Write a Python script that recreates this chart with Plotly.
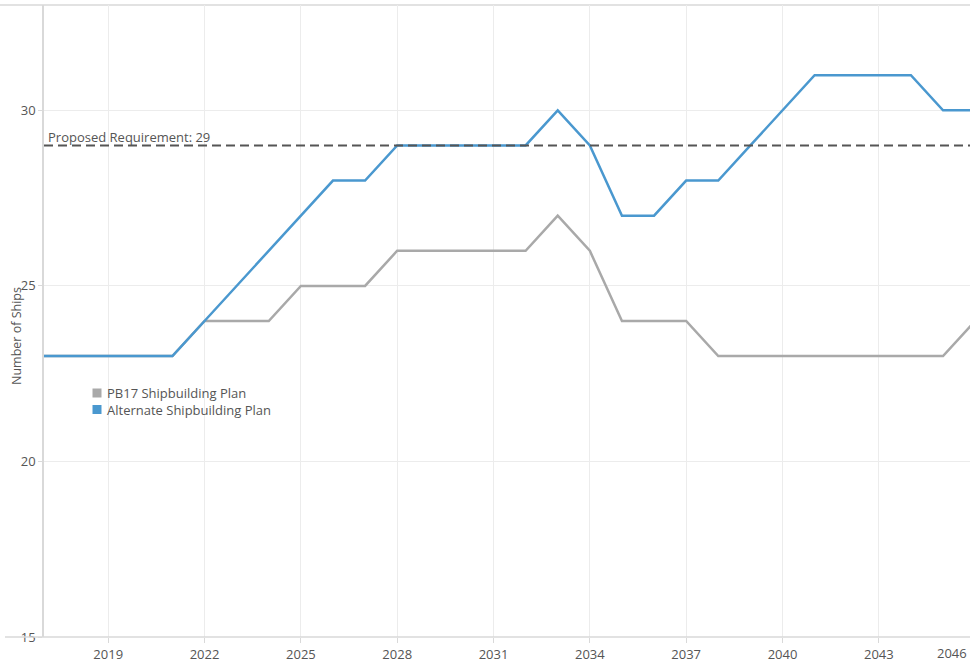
import plotly.graph_objects as go

# Fleet size by year under two shipbuilding plans
years = list(range(2017, 2047))
pb17_plan = [23, 23, 23, 23, 23, 24, 24, 24, 25, 25, 25, 26, 26, 26, 26, 26, 27, 26,
             24, 24, 24, 23, 23, 23, 23, 23, 23, 23, 23, 24]
alternate_plan = [23, 23, 23, 23, 23, 24, 25, 26, 27, 28, 28, 29, 29, 29, 29, 29, 30, 29,
                  27, 27, 28, 28, 29, 30, 31, 31, 31, 31, 30, 30]
requirement = 29
x_ticks = [2019, 2022, 2025, 2028, 2031, 2034, 2037, 2040, 2043]
y_ticks = [15, 20, 25, 30]
series_names = ["PB17 Shipbuilding Plan", "Alternate Shipbuilding Plan"]

GRAY = "#a9a9a9"
BLUE = "#4a98cf"
TEXT = "#555555"
FONT = "Open Sans"

W, H = 970, 662
ML, MR, MT, MB = 44, 0, 5, 25
PW, PH = W - ML - MR, H - MT - MB


def px_x(px):
    return (px - ML) / PW


def px_y(py):
    return (H - MB - py) / PH


fig = go.Figure()

for name, values, color in zip(series_names, [pb17_plan, alternate_plan], [GRAY, BLUE]):
    fig.add_trace(go.Scatter(x=years, y=values, mode="lines", name=name,
                             line=dict(color=color, width=2.5), showlegend=False,
                             hoverinfo="x+y+name"))

# compact legend: square swatches with labels
for i, (name, color) in enumerate(zip(series_names, [GRAY, BLUE])):
    cy = 393 + i * 16.5
    fig.add_shape(type="rect", xref="paper", yref="paper",
                  x0=px_x(92.5), x1=px_x(101.5), y0=px_y(cy + 4.5), y1=px_y(cy - 4.5),
                  fillcolor=color, line=dict(width=0), layer="above")
    fig.add_annotation(xref="paper", yref="paper", x=px_x(105), y=px_y(cy), text=name,
                       showarrow=False, xanchor="left", yanchor="middle",
                       font=dict(family=FONT, size=13, color=TEXT))

# requirement reference line
fig.add_shape(type="line", xref="paper", yref="y", x0=0, x1=1, y0=requirement, y1=requirement,
              line=dict(color="#555555", width=2, dash="9px,5px"), layer="above")
fig.add_annotation(xref="paper", yref="y", x=px_x(46), y=requirement,
                   text=f"Proposed Requirement: {requirement}", showarrow=False,
                   xanchor="left", yanchor="bottom", yshift=-3,
                   font=dict(family=FONT, size=13, color=TEXT))

# frame lines above and below the plot
fig.add_shape(type="line", xref="paper", yref="paper", x0=px_x(0), x1=1, y0=1, y1=1,
              line=dict(color="#e2e2e2", width=2), layer="below")
fig.add_shape(type="line", xref="paper", yref="paper", x0=px_x(5), x1=1, y0=0, y1=0,
              line=dict(color="#d9d9d9", width=1.5), layer="above")

# last year label sits right-aligned at the plot edge
fig.add_annotation(xref="paper", yref="paper", x=1, y=0, text="2046", showarrow=False,
                   xanchor="right", yanchor="top", xshift=-1, yshift=-5,
                   font=dict(family=FONT, size=13, color=TEXT))

fig.add_annotation(xref="paper", yref="paper", x=px_x(16), y=px_y(336), text="Number of Ships",
                   textangle=-90, showarrow=False, xanchor="center", yanchor="middle",
                   font=dict(family=FONT, size=12.5, color=TEXT))

fig.update_xaxes(range=[2017, 2045.84], tickvals=x_ticks, ticktext=[str(v) for v in x_ticks],
                 showgrid=True, gridcolor="#ececec", gridwidth=1,
                 zeroline=False, showline=False, ticks="outside", ticklen=5,
                 tickcolor="#d9d9d9", tickfont=dict(family=FONT, size=13, color=TEXT))
fig.update_yaxes(range=[15, 33], tickvals=y_ticks, showgrid=True, gridcolor="#ececec",
                 gridwidth=1, zeroline=False, showline=True, linecolor="#d9d9d9", linewidth=1.5,
                 ticks="outside", ticklen=4, tickcolor="#d9d9d9",
                 tickfont=dict(family=FONT, size=13, color=TEXT))

fig.update_layout(
    width=W, height=H,
    margin=dict(l=ML, r=MR, t=MT, b=MB, pad=0),
    plot_bgcolor="white", paper_bgcolor="white",
    font=dict(family=FONT, color=TEXT),
    showlegend=False,
)

fig.write_html("out.html")
